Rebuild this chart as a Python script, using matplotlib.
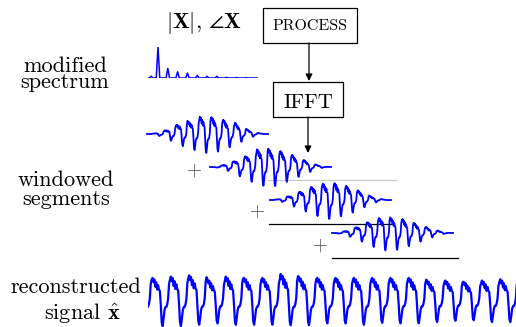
# STFT の処理の流れ: 修正スペクトル -> IFFT -> 窓付きセグメント -> 再構成信号
import numpy as np
from matplotlib import pyplot as plt
from matplotlib.patches import Rectangle

plt.rcParams['mathtext.fontset'] = 'cm'
plt.rcParams['font.family'] = ['cmr10', 'DejaVu Serif']
plt.rcParams['axes.unicode_minus'] = False

# 1 周期分の波形 (ピークから始まる 20 サンプル, 画像から読み取り)
period_shape = [1.0, 0.8, 0.93, 0.6, 0.8, 0.47, 0.67, 0.47, 0.4, -0.2,
                -0.87, -1.0, -0.73, -0.4, -0.27, -0.27, -0.17, 0.07, 0.73, 0.92]
# 周期ごとの山の高さと谷の深さ
peak_top = [0.85, 0.85, 0.9, 0.95, 0.8, 0.9, 0.85, 0.85, 1.0, 0.88, 0.85,
            0.85, 0.85, 0.85, 0.85, 0.85, 0.75, 0.75, 0.7, 0.75, 0.8, 0.8]
trough_bottom = [0.95, 1.0, 1.0, 0.95, 0.9, 0.95, 0.95, 0.95, 0.97, 0.97, 0.9,
                 0.9, 0.95, 0.88, 0.9, 0.9, 0.85, 0.8, 0.78, 0.85, 0.85, 0.85]

# スペクトル (高調波の位置と大きさ)
spec_pos = [0.3, 1, 2, 3, 4, 5, 6, 7, 8, 9, 10]
spec_mag = [0.06, 1.0, 0.31, 0.2, 0.16, 0.08, 0.055, 0.055, 0.02, 0.012, 0.01]

# セグメントの開始位置 (周期単位)
seg_start = [0.5, 4.0, 7.5, 11.0]
seg_len = 10.3

# 信号を組み立てる
shape = np.array(period_shape)
parts = []
for top, bot in zip(peak_top, trough_bottom):
    parts.append(np.where(shape > 0, shape*top, shape*bot))
sig = np.concatenate(parts)
tt = np.arange(len(sig)) / len(shape)

W, H = 516, 327
fig = plt.figure(figsize=(W/100, H/100), dpi=100)
ax = fig.add_axes([0, 0, 1, 1])
ax.set_xlim(0, W)
ax.set_ylim(H, 0)
ax.axis("off")

def px_axes(x0, y0, x1, y1):
    a = fig.add_axes([x0/W, 1 - y1/H, (x1 - x0)/W, (y1 - y0)/H])
    a.axis("off")
    a.patch.set_alpha(0)
    return a

# 左側のラベル
fs = 16
ax.text(65, 88, "modified\nspectrum", ha="center", va="baseline", fontsize=fs,
        multialignment="center", linespacing=0.8)
ax.text(66, 205, "windowed\nsegments", ha="center", va="baseline", fontsize=fs,
        multialignment="center", linespacing=0.95)
ax.text(76, 293, "reconstructed", ha="center", va="baseline", fontsize=fs)
ax.text(82, 320, r"signal $\hat{\mathbf{x}}$", ha="center", va="baseline", fontsize=fs)

# 上の記号とブロック
ax.text(204, 28, r"$|\mathbf{X}|,\,\angle\mathbf{X}$", ha="center", va="baseline", fontsize=fs)
ax.add_patch(Rectangle((263, 8), 94, 35, fill=False, lw=0.9, ec="black"))
ax.text(310, 30, "PROCESS", ha="center", va="baseline", fontsize=11.5)
ax.add_patch(Rectangle((273, 82), 70, 35, fill=False, lw=0.9, ec="black"))
ax.text(308, 108, "IFFT", ha="center", va="baseline", fontsize=15)
ax.annotate("", xy=(309, 81), xytext=(309, 43),
            arrowprops=dict(arrowstyle="-|>", color="black", lw=0.9, mutation_scale=10, shrinkA=0, shrinkB=0))
ax.annotate("", xy=(308, 153), xytext=(308, 117),
            arrowprops=dict(arrowstyle="-|>", color="black", lw=0.9, mutation_scale=10, shrinkA=0, shrinkB=0))

# スペクトル
sx, sy = [-0.1], [0.0]
for p, m in zip(spec_pos, spec_mag):
    sx += [p - 0.18, p, p + 0.18]
    sy += [0.0, m, 0.0]
sx.append(11.2)
sy.append(0.0)
a_sp = px_axes(148, 47, 258, 78)
a_sp.plot(sx, sy, color="blue", lw=1.1)
a_sp.set_xlim(-0.02, 11.2)
a_sp.set_ylim(0, 1)

# 窓付きセグメント
seg_x = [147, 210, 270, 332]
seg_y = [134, 167, 200, 233]
for x0, y0, t0 in zip(seg_x, seg_y, seg_start):
    m = (tt >= t0) & (tt <= t0 + seg_len)
    win = np.hanning(m.sum())
    a_s = px_axes(x0, y0 - 20, x0 + 121, y0 + 20)
    a_s.plot(tt[m], sig[m]*win, color="blue", lw=1.3, clip_on=False)
    a_s.set_xlim(t0, t0 + seg_len)
    a_s.set_ylim(-1, 1)

# 重ね合わせの線と + 記号
ax.plot([268, 396], [180, 180], color="#c8c8c8", lw=0.9)
ax.plot([269, 392], [224, 224], color="black", lw=0.9)
ax.plot([332, 458], [258, 258], color="black", lw=0.9)
for px, py in [(194, 171), (257, 212), (320, 246)]:
    ax.text(px, py, "+", ha="center", va="center", fontsize=14, color="#555555")

# 再構成信号 (上下は 300 を中心に ±26 px)
a_r = px_axes(148, 266, 516, 334)
a_r.plot(tt, sig, color="blue", lw=1.6)
a_r.set_xlim(0.75, 20.86)
a_r.set_ylim(-34/26, 34/26)

plt.savefig("out.png", dpi=100)
